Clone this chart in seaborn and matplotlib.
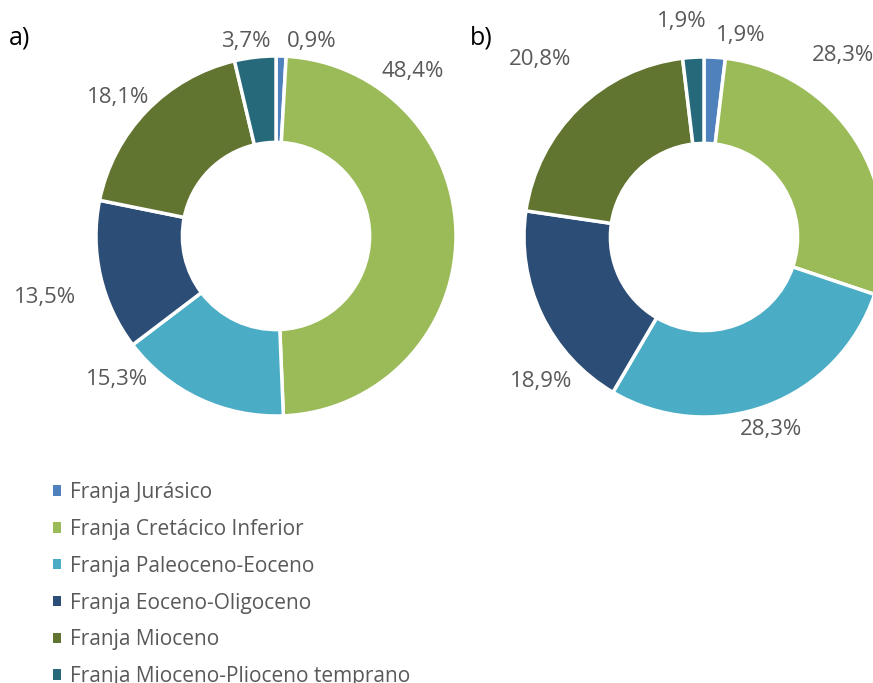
import matplotlib
matplotlib.use("Agg")
import matplotlib.pyplot as plt
import seaborn as sns
from matplotlib.patches import Patch

sns.set_theme(style="white")
plt.rcParams['font.family'] = ['Open Sans', 'DejaVu Sans']

categories = ["Franja Jurásico", "Franja Cretácico Inferior", "Franja Paleoceno-Eoceno",
              "Franja Eoceno-Oligoceno", "Franja Mioceno", "Franja Mioceno-Plioceno temprano"]
values_a = [0.9, 48.4, 15.3, 13.5, 18.1, 3.7]
values_b = [1.9, 28.3, 28.3, 18.9, 20.8, 1.9]
labels_a = ["0,9%", "48,4%", "15,3%", "13,5%", "18,1%", "3,7%"]
labels_b = ["1,9%", "28,3%", "28,3%", "18,9%", "20,8%", "1,9%"]
colors = ["#4F81BD", "#9BBB59", "#4BACC6", "#2C4D75", "#617530", "#26697A"]

W, H = 873, 683
fig = plt.figure(figsize=(W / 100, H / 100), dpi=100)
ax = fig.add_axes([0, 0, 1, 1])

R = 180
centers = [(276, H - 236), (704, H - 237)]
# label centre positions in pixel coords (x, y from top)
pos_a = [(312, 42), (413, 72), (117, 380), (45, 298), (118, 98), (246, 42)]
pos_b = [(741, 35), (843, 55), (771, 430), (541, 381), (540, 60), (682, 22)]

label_font = dict(family=['Open Sans', 'DejaVu Sans'], fontsize=16, color='#595959')

for vals, labs, c, pos in [(values_a, labels_a, centers[0], pos_a), (values_b, labels_b, centers[1], pos_b)]:
    w, _ = ax.pie(vals, colors=colors, startangle=90, counterclock=False, radius=R, center=c,
                  wedgeprops=dict(width=R * 0.48, edgecolor='white', linewidth=2.5), frame=True)
    for lab, (px, py) in zip(labs, pos):
        ax.text(px, H - py, lab, ha='center', va='center', **label_font)

ax.set_xlim(0, W)
ax.set_ylim(0, H)
ax.set_aspect('equal')
ax.axis('off')

fig.text(20 / W, 1 - 38 / H, "a)", ha='center', va='center', fontsize=18, color='black')
fig.text(481 / W, 1 - 38 / H, "b)", ha='center', va='center', fontsize=18, color='black')

handles = [Patch(facecolor=col, edgecolor='none') for col in colors]
leg = fig.legend(handles, categories, loc='upper left', bbox_to_anchor=(53 / W, 1 - 482 / H),
                 frameon=False, fontsize=15, labelcolor='#595959', handlelength=0.4,
                 handleheight=0.4, handletextpad=0.4, labelspacing=0.76, borderaxespad=0,
                 borderpad=0)

fig.savefig("out.png", dpi=100)
